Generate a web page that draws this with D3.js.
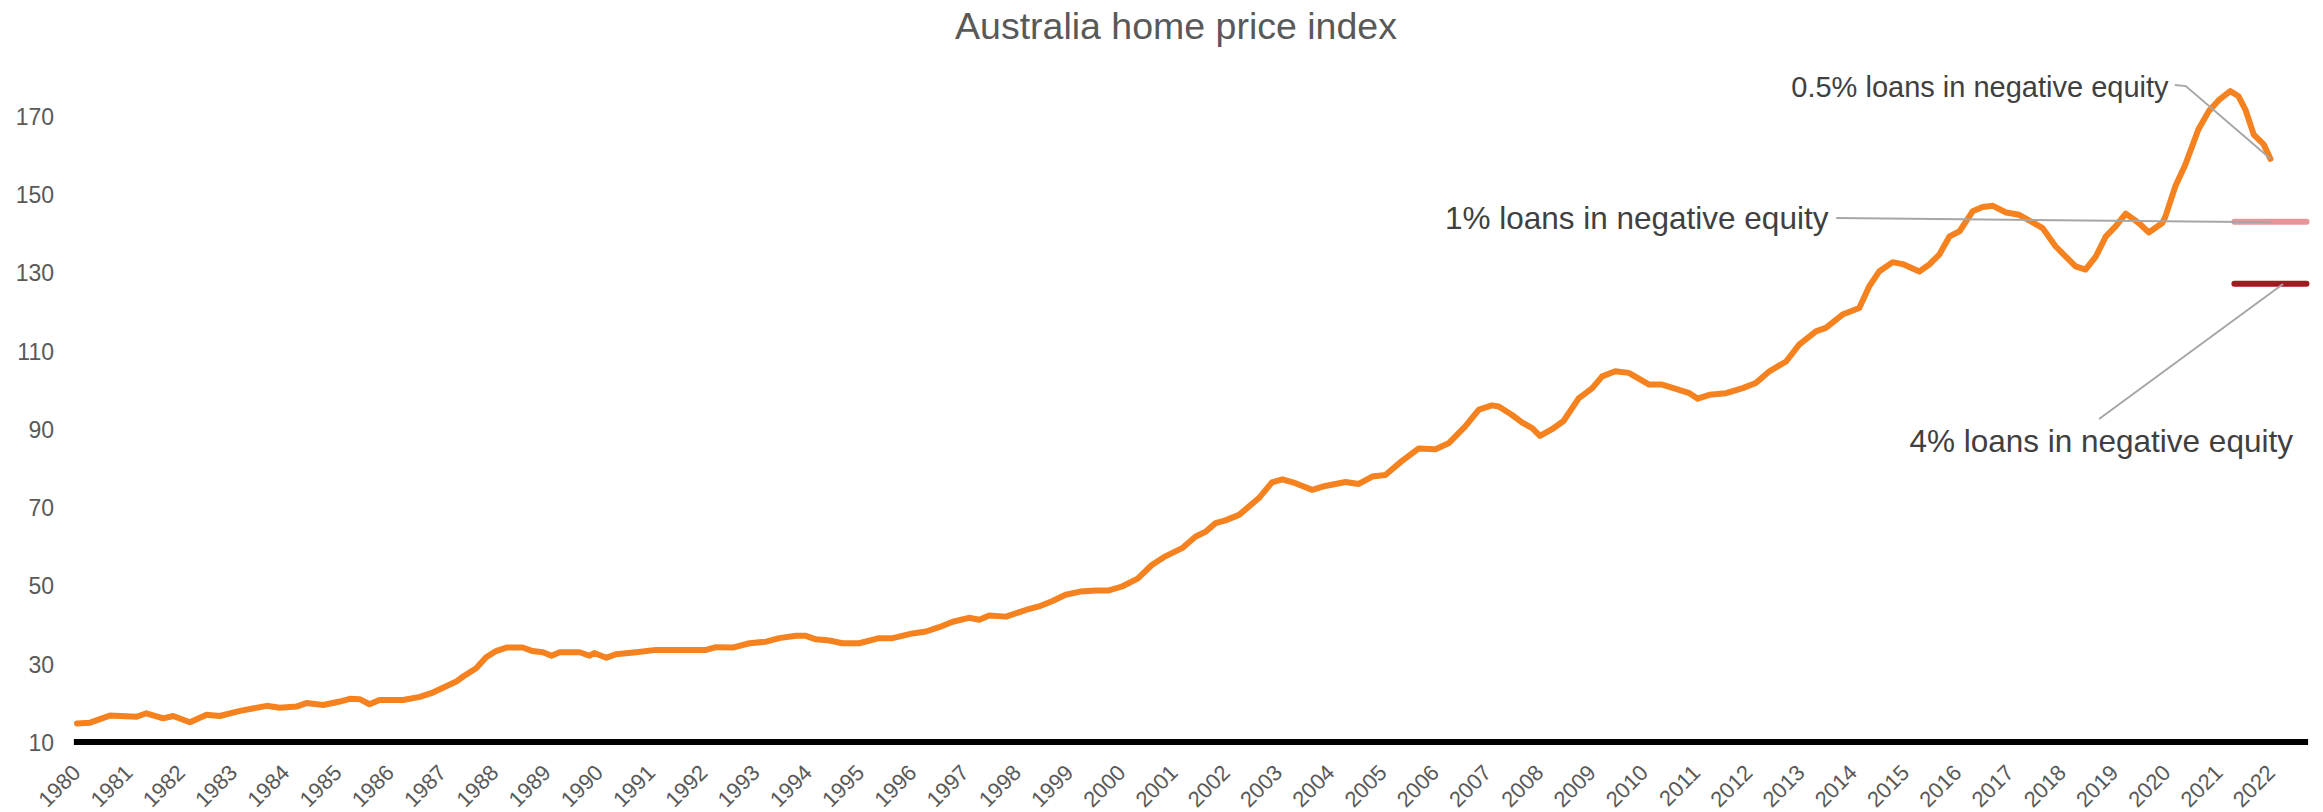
<!DOCTYPE html>
<html>
<head>
<meta charset="utf-8">
<script src="https://cdn.jsdelivr.net/npm/d3@7"></script>
<style>
  body { margin: 0; background: #fff; }
  svg { display: block; }
  text { font-family: "Liberation Sans", Arial, sans-serif; }
</style>
</head>
<body>
<svg id="chart" width="2323" height="812"></svg>
<script>
// index values (decimal year, index)
const dates = [
  1980.0, 1980.25, 1980.63, 1981.14, 1981.33, 1981.65, 1981.84, 1982.16, 1982.48, 1982.73,
  1983.12, 1983.63, 1983.88, 1984.2, 1984.39, 1984.71, 1985.03, 1985.22, 1985.41, 1985.6,
  1985.79, 1986.24, 1986.56, 1986.81, 1987.26, 1987.39, 1987.64, 1987.83, 1988.02, 1988.22,
  1988.53, 1988.72, 1988.92, 1989.08, 1989.24, 1989.62, 1989.81, 1989.9, 1990.13, 1990.32,
  1990.7, 1991.08, 1992.04, 1992.23, 1992.55, 1992.87, 1993.19, 1993.44, 1993.76, 1993.95,
  1994.14, 1994.4, 1994.65, 1994.97, 1995.35, 1995.61, 1995.99, 1996.25, 1996.5, 1996.76,
  1997.07, 1997.27, 1997.46, 1997.78, 1998.16, 1998.41, 1998.67, 1998.92, 1999.2, 1999.5,
  1999.75, 2000.0, 2000.3, 2000.57, 2000.8, 2001.15, 2001.41, 2001.6, 2001.79, 2001.98,
  2002.24, 2002.62, 2002.87, 2003.07, 2003.32, 2003.64, 2003.89, 2004.28, 2004.53, 2004.79,
  2005.04, 2005.36, 2005.68, 2006.0, 2006.25, 2006.57, 2006.83, 2007.08, 2007.21, 2007.46,
  2007.66, 2007.85, 2008.0, 2008.23, 2008.45, 2008.74, 2009.0, 2009.19, 2009.44, 2009.7,
  2010.09, 2010.34, 2010.6, 2010.86, 2011.02, 2011.24, 2011.56, 2011.88, 2012.13, 2012.39,
  2012.71, 2012.96, 2013.28, 2013.47, 2013.79, 2014.11, 2014.3, 2014.49, 2014.75, 2014.94,
  2015.26, 2015.45, 2015.64, 2015.84, 2016.03, 2016.28, 2016.47, 2016.67, 2016.92, 2017.17,
  2017.36, 2017.62, 2017.87, 2018.25, 2018.44, 2018.64, 2018.83, 2019.02, 2019.21, 2019.46,
  2019.65, 2019.91, 2019.97, 2020.16, 2020.35, 2020.6, 2020.8, 2020.99, 2021.21, 2021.37,
  2021.5, 2021.66, 2021.85, 2021.98
];
const values = [
  15.0, 15.2, 17.0, 16.7, 17.6, 16.3, 16.9, 15.3, 17.2, 16.9,
  18.2, 19.5, 19.0, 19.3, 20.2, 19.7, 20.6, 21.3, 21.2, 19.9,
  21.0, 21.0, 21.8, 22.9, 25.7, 27.0, 29.1, 31.9, 33.5, 34.4,
  34.4, 33.5, 33.2, 32.3, 33.2, 33.2, 32.3, 33.0, 31.8, 32.7,
  33.2, 33.8, 33.8, 34.5, 34.4, 35.5, 35.9, 36.8, 37.4, 37.4,
  36.5, 36.2, 35.5, 35.5, 36.8, 36.8, 38.0, 38.5, 39.6, 41.0,
  42.0, 41.5, 42.6, 42.3, 44.0, 44.9, 46.3, 47.9, 48.7, 49.0,
  49.0, 50.0, 52.0, 55.5, 57.5, 59.8, 62.8, 64.0, 66.2, 66.9,
  68.3, 72.6, 76.6, 77.4, 76.4, 74.7, 75.7, 76.7, 76.2, 78.1,
  78.5, 82.1, 85.3, 85.1, 86.6, 90.9, 95.2, 96.3, 96.0, 93.9,
  91.9, 90.5, 88.5, 90.2, 92.3, 98.1, 100.7, 103.7, 105.0, 104.6,
  101.6, 101.6, 100.5, 99.4, 98.0, 99.0, 99.4, 100.7, 102.0, 105.0,
  107.5, 111.8, 115.2, 116.1, 119.5, 121.2, 126.7, 130.5, 132.9, 132.4,
  130.5, 132.3, 134.8, 139.5, 140.8, 145.9, 147.0, 147.3, 145.6, 145.0,
  143.6, 141.6, 136.9, 131.8, 131.0, 134.4, 139.5, 142.1, 145.3, 142.9,
  140.5, 142.9, 144.6, 152.3, 157.8, 166.8, 171.5, 174.3, 176.6, 175.3,
  171.9, 165.5, 163.0, 159.3
];

const years = d3.range(1980, 2023);
const yTicks = [10, 30, 50, 70, 90, 110, 130, 150, 170];

// negative equity thresholds (pink = 1%, dark red = 4%)
const thresholdValues = [143.2, 127.4];
const thresholdColors = ["#e8959a", "#9e1b20"];
const thresholdSpan = [2021.29, 2022.67];

// annotation labels, their anchor (year, index) and leader lines
const noteLabels = ["0.5% loans in negative equity", "1% loans in negative equity", "4% loans in negative equity"];
const noteAnchors = [[2020.03, 175.1], [2013.52, 141.4], [2022.41, 84.4]];
const noteSizes = [29, 31.5, 31.5];
const noteLeaders = [
  [[2020.15, 178.2], [2020.36, 177.9], [2021.98, 159.3]],
  [[2013.67, 144.2], [2021.99, 143.1]],
  [[2018.70, 92.8], [2022.22, 127.3]]
];

const svg = d3.select("#chart");

const x = d3.scaleLinear().domain([1980, 2022]).range([77, 2271.5]);
const y = d3.scaleLinear().domain([10, 170]).range([743, 117]);

// title
svg.append("text")
  .attr("x", 1176).attr("y", 39)
  .attr("text-anchor", "middle")
  .attr("font-size", 37.5)
  .attr("fill", "#595959")
  .text("Australia home price index");

// y axis labels
const yAxis = d3.axisLeft(y).tickValues(yTicks).tickSize(0).tickPadding(0);
const gy = svg.append("g").attr("transform", "translate(54,0)").call(yAxis);
gy.select(".domain").remove();
gy.attr("font-size", 23).attr("font-family", null);
gy.selectAll("text").attr("fill", "#595959");

// x axis base line
svg.append("line")
  .attr("x1", x(1979.94)).attr("x2", x(2022.7))
  .attr("y1", 742).attr("y2", 742)
  .attr("stroke", "#000").attr("stroke-width", 6);

// rotated year labels
svg.append("g").selectAll("text")
  .data(years)
  .join("text")
  .attr("transform", d => `translate(${x(d) + 5},774) rotate(-45)`)
  .attr("text-anchor", "end")
  .attr("font-size", 22)
  .attr("fill", "#595959")
  .text(d => d);

// threshold bars
thresholdValues.forEach((v, i) => {
  svg.append("line")
    .attr("x1", x(thresholdSpan[0])).attr("x2", x(thresholdSpan[1]))
    .attr("y1", y(v)).attr("y2", y(v))
    .attr("stroke", thresholdColors[i])
    .attr("stroke-width", 6)
    .attr("stroke-linecap", "round");
});

// price line
const pts = dates.map((d, i) => [d, values[i]]);
const line = d3.line().x(d => x(d[0])).y(d => y(d[1]));
svg.append("path")
  .datum(pts)
  .attr("d", line)
  .attr("fill", "none")
  .attr("stroke", "#f5821f")
  .attr("stroke-width", 6)
  .attr("stroke-linejoin", "round")
  .attr("stroke-linecap", "round");

// annotations
noteLeaders.forEach(l => {
  svg.append("path")
    .attr("d", line(l))
    .attr("fill", "none")
    .attr("stroke", "#a6a6a6")
    .attr("stroke-width", 2);
});

noteLabels.forEach((t, i) => {
  svg.append("text")
    .attr("x", x(noteAnchors[i][0])).attr("y", y(noteAnchors[i][1]))
    .attr("text-anchor", "end")
    .attr("font-size", noteSizes[i])
    .attr("fill", "#404040")
    .text(t);
});
</script>
</body>
</html>
